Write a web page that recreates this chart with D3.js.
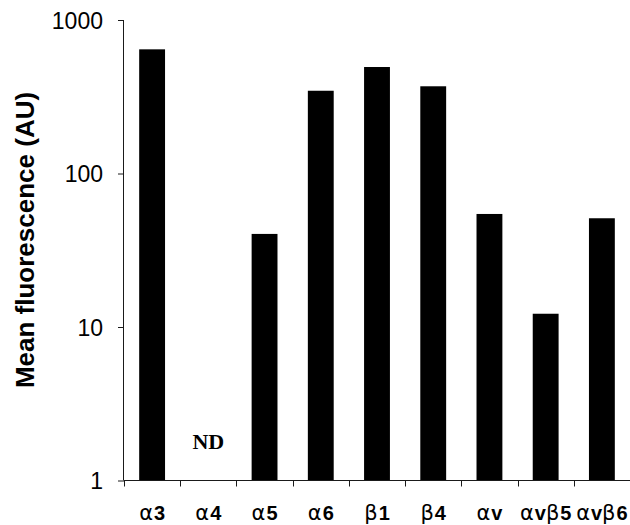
<!DOCTYPE html>
<html>
<head>
<meta charset="utf-8">
<script src="https://cdn.jsdelivr.net/npm/d3@7"></script>
<style>
  html, body { margin: 0; padding: 0; background: #fff; }
  svg { display: block; }
</style>
</head>
<body>
<svg id="chart" width="630" height="525"></svg>
<script>
// Integrin expression, mean fluorescence per subunit (log scale); null = not detected
const greek = ["α", "α", "α", "α", "β", "β", "αv", "αvβ", "αvβ"];
const suffix = ["3", "4", "5", "6", "1", "4", "", "5", "6"];
const categories = greek.map((g, i) => g + suffix[i]);
const values = [644, null, 40.4, 346, 494, 370, 54.5, 12.2, 51.1];
const yTicks = [1, 10, 100, 1000];
const yLabel = "Mean fluorescence (AU)";
const missingLabel = "ND";

const svg = d3.select("#chart");
const plotLeft = 124, plotRight = 630, plotTop = 20, plotBottom = 480.5;

const x = d3.scaleBand()
  .domain(categories)
  .range([plotLeft, plotRight])
  .paddingInner(0.54)
  .paddingOuter(0.27);

const y = d3.scaleLog()
  .domain([1, 1000])
  .range([plotBottom, plotTop]);

const ink = "#1a1a1a";

// bars
svg.append("g")
  .selectAll("rect")
  .data(categories.map((c, i) => ({ c, v: values[i] })).filter(d => d.v != null))
  .join("rect")
  .attr("x", d => x(d.c))
  .attr("width", x.bandwidth())
  .attr("y", d => y(d.v))
  .attr("height", d => y(1) - y(d.v))
  .attr("fill", "#000");

// not-detected marker
categories.forEach((c, i) => {
  if (values[i] == null) {
    svg.append("text")
      .attr("x", x(c) + x.bandwidth() / 2)
      .attr("y", 449)
      .attr("text-anchor", "middle")
      .attr("font-family", "'Liberation Serif', 'Times New Roman', serif")
      .attr("font-weight", "bold")
      .attr("font-size", 22)
      .attr("fill", "#000")
      .text(missingLabel);
  }
});

// y axis
const yAxis = svg.append("g")
  .attr("transform", `translate(${plotLeft},0)`)
  .call(d3.axisLeft(y).tickValues(yTicks).tickFormat(d3.format("d")).tickSize(6).tickPadding(15));
yAxis.select(".domain").attr("stroke", ink).attr("d", `M-0.5,${plotTop}V${plotBottom}`);
yAxis.selectAll(".tick line").attr("stroke", ink);
yAxis.selectAll(".tick text")
  .attr("font-family", "'Liberation Sans', Arial, sans-serif")
  .attr("font-size", 23)
  .attr("fill", "#000")
  .attr("dy", "0.36em");

// x axis: ticks at category boundaries, labels centred under bars
const step = x.step();
const boundaries = categories.map(c => x(c) + x.bandwidth() / 2 - step / 2);
const xg = svg.append("g");
xg.append("line")
  .attr("x1", plotLeft).attr("x2", plotRight)
  .attr("y1", plotBottom).attr("y2", plotBottom)
  .attr("stroke", ink);
xg.selectAll("line.tick")
  .data(boundaries)
  .join("line")
  .attr("class", "tick")
  .attr("x1", d => Math.round(d) + 0.5).attr("x2", d => Math.round(d) + 0.5)
  .attr("y1", plotBottom).attr("y2", plotBottom + 6)
  .attr("stroke", ink);

const labels = xg.selectAll("text.cat")
  .data(categories.map((c, i) => ({ c, i })))
  .join("text")
  .attr("class", "cat")
  .attr("x", d => x(d.c) + x.bandwidth() / 2)
  .attr("y", 520)
  .attr("text-anchor", "middle")
  .attr("font-family", "'Liberation Sans', Arial, sans-serif")
  .attr("font-weight", "bold")
  .attr("font-size", 20)
  .attr("fill", "#000");
labels.each(function(d) {
  const t = d3.select(this);
  const g = greek[d.i];
  // Greek letters in a wide regular face; roman letters and digits in bold sans
  for (const ch of g) {
    if (ch === "α" || ch === "β") {
      t.append("tspan")
        .attr("font-family", "'DejaVu Sans', sans-serif")
        .attr("font-weight", "normal")
        .attr("font-size", 21)
        .attr("letter-spacing", 1)
        .text(ch);
    } else {
      t.append("tspan").text(ch);
    }
  }
  t.append("tspan").text(suffix[d.i]);
});

// y axis title
svg.append("text")
  .attr("transform", "translate(34,240) rotate(-90)")
  .attr("text-anchor", "middle")
  .attr("font-family", "'Liberation Sans', Arial, sans-serif")
  .attr("font-weight", "bold")
  .attr("font-size", 26)
  .attr("fill", "#000")
  .text(yLabel);
</script>
</body>
</html>
